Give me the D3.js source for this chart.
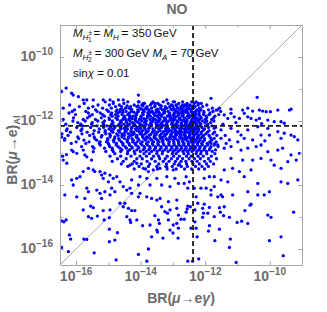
<!DOCTYPE html>
<html><head><meta charset="utf-8">
<script src="https://cdn.jsdelivr.net/npm/d3@7"></script>
<style>body{margin:0;background:#fff}</style>
</head><body>
<svg id="chart" width="327" height="312"></svg>
<script>
// ---- data (log10 of branching ratios) ----
const titleText = "NO";
const xDomainExp = [-16.5, -9];
const yDomainExp = [-16.5, -9];
const tickExps = [-16, -15, -14, -13, -12, -11, -10, -9];
const labelExps = [-16, -14, -12, -10];
const megBound = 4.2e-13;      // BR(mu -> e gamma) limit
const alBound = 7e-13;         // BR(mu -> e) limit

// sparse points: [log10 BR(mu->e gamma), log10 BR(mu->e)_Al]
const pointsUpper = [
[-16.45,-11.08],[-16.14,-11.13],[-16.09,-11.19],[-15.93,-11.24],[-15.78,-11.34],[-15.67,-11.34],[-15.47,-11.34],
[-15.16,-11.34],[-14.95,-11.34],[-14.85,-11.40],[-14.69,-11.34],[-14.54,-11.34],[-14.07,-11.19],[-14.07,-11.40],
[-13.92,-11.45],[-13.66,-11.45],[-13.56,-11.45],[-13.19,-11.34],[-12.99,-11.40],[-16.31,-10.97],
[-11.82,-11.29],[-10.39,-11.26],[-12.21,-11.45],[-12.59,-11.50],[-12.70,-11.50],[-11.66,-11.66],[-11.56,-11.60],
[-11.20,-11.63],[-11.20,-11.76],[-10.84,-11.66],[-10.79,-11.76],[-10.68,-11.60],[-10.53,-11.69],[-10.32,-11.66],
[-10.22,-11.69],[-10.11,-11.71],[-9.98,-11.71],[-9.75,-11.66],[-9.39,-11.66],[-9.34,-11.63],[-11.41,-11.81],
[-11.30,-11.92],[-11.10,-11.87],[-10.94,-11.92],[-10.68,-11.87],[-10.58,-11.92],[-10.42,-11.97],[-10.32,-11.92],
[-10.06,-11.97],[-9.86,-12.02],[-9.65,-12.02],[-9.55,-12.07],[-11.72,-12.23],[-11.51,-12.28],[-11.20,-12.23],
[-10.99,-12.33],[-10.68,-12.28],[-10.37,-12.18],[-10.06,-12.23],[-10.01,-12.44],[-9.75,-12.33],[-9.65,-12.54],
[-9.55,-12.38],[-9.34,-12.44],[-9.24,-12.49],[-9.13,-12.59],[-10.89,-12.44],[-10.79,-12.54],[-10.99,-12.65],
[-10.53,-12.59],[-10.27,-12.44],[-11.25,-12.59],[-11.51,-12.54],[-11.35,-12.70],[-11.72,-12.54],[-11.82,-12.70],
[-11.61,-12.75],[-11.45,-12.10],[-11.05,-12.05],[-10.25,-12.08],[-11.38,-12.45],[-10.15,-12.62]
];
const pointsMiddle = [
[-16.40,-13.22],[-16.29,-13.32],[-16.42,-13.10],[-16.30,-13.05],[-16.09,-12.96],[-16.14,-12.91],[-15.98,-13.01],
[-15.83,-12.80],[-15.78,-12.91],[-15.73,-13.06],[-15.67,-13.12],[-15.49,-12.80],[-15.47,-12.96],[-15.52,-13.22],
[-15.62,-13.48],[-15.78,-13.58],[-15.88,-13.74],[-15.98,-13.79],[-15.47,-13.53],[-15.42,-13.58],[-16.14,-13.84],
[-16.09,-14.00],[-15.67,-14.10],[-15.62,-14.21],[-15.36,-14.16],[-16.35,-14.31],[-15.98,-14.37],[-15.73,-14.42],
[-15.26,-13.58],[-15.21,-13.69],[-15.11,-13.63],[-15.16,-13.79],[-15.00,-13.90],[-14.95,-13.69],[-14.85,-13.79],
[-14.74,-13.74],[-14.64,-13.90],[-14.90,-14.10],[-14.80,-14.21],[-14.95,-14.31],[-15.11,-14.21],[-15.26,-14.26],
[-15.21,-14.42],[-14.54,-14.05],[-14.43,-14.16],[-14.33,-14.10],[-14.28,-14.26],[-14.02,-14.26],[-14.07,-14.37],
[-13.81,-14.37],[-13.66,-14.42],[-13.50,-14.47],[-13.40,-14.42],[-13.14,-14.52],[-12.88,-14.47],[-14.49,-14.57],
[-14.64,-14.57],[-14.33,-13.38],[-14.12,-13.32],[-13.92,-13.48],[-13.76,-13.58],[-13.61,-13.53],[-13.40,-13.48],
[-13.19,-13.43],[-12.99,-13.53],[-12.83,-13.38],[-14.02,-13.74],[-13.81,-13.79],[-13.50,-13.79],[-13.19,-13.74],
[-12.94,-13.79],[-14.28,-13.84],[-14.07,-14.00],[-13.71,-14.00],[-13.35,-14.00],[-13.09,-14.05],[-12.83,-13.95],
[-11.41,-12.85],[-11.20,-12.80],[-10.89,-12.91],[-10.68,-12.85],[-10.42,-12.80],[-10.27,-12.75],[-10.06,-12.96],
[-9.75,-12.91],[-9.60,-12.85],[-9.34,-13.06],[-9.18,-13.22],[-9.08,-13.01],[-11.20,-13.17],[-10.84,-13.22],
[-10.53,-13.22],[-10.27,-13.17],[-9.96,-13.22],[-9.86,-13.38],[-9.65,-13.48],[-9.44,-13.27],[-11.41,-13.53],
[-11.15,-13.48],[-10.94,-13.58],[-10.58,-13.53],[-11.72,-13.74],[-11.87,-13.74],[-12.03,-13.79],[-11.51,-13.84],
[-11.30,-13.90],[-10.79,-13.74],[-10.37,-13.95],[-9.65,-13.90],[-9.44,-13.95],[-9.13,-13.84],[-12.54,-14.10],
[-12.34,-14.10],[-12.13,-14.10],[-11.97,-14.10],[-11.82,-14.16],[-11.72,-14.05],[-11.51,-14.31],[-11.46,-14.37],
[-11.61,-14.37],[-11.82,-14.31],[-12.28,-14.37],[-11.15,-14.31],[-10.68,-14.21],[-10.37,-14.31],[-10.17,-14.31],
[-10.01,-14.21],[-12.65,-13.95],[-12.49,-13.90],[-12.59,-13.74],[-12.23,-14.57],[-12.03,-14.60],[-10.58,-14.60]
];
const pointsLower = [
[-15.78,-14.78],[-15.55,-14.66],[-15.47,-14.71],[-15.16,-14.80],[-14.95,-14.78],[-14.54,-14.68],[-14.38,-14.73],
[-14.28,-14.80],[-14.18,-14.80],[-15.62,-14.99],[-15.52,-15.04],[-15.34,-14.97],[-15.13,-15.09],[-14.97,-15.02],
[-16.45,-15.12],[-16.38,-15.15],[-16.31,-15.09],[-14.43,-14.99],[-14.33,-15.09],[-14.31,-15.17],[-14.12,-15.09],
[-13.94,-15.27],[-13.71,-15.25],[-13.56,-14.96],[-13.45,-15.09],[-13.42,-15.20],[-13.50,-15.41],[-13.48,-15.47],
[-13.66,-15.62],[-13.31,-15.66],[-13.00,-15.50],[-12.84,-15.66],[-16.21,-15.56],[-16.17,-15.69],[-15.76,-15.69],
[-15.67,-15.70],[-14.97,-15.38],[-14.72,-15.49],[-14.80,-15.72],[-14.97,-15.77],[-16.45,-15.95],[-16.24,-16.08],
[-15.44,-16.12],[-14.07,-16.17],[-13.76,-16.00],[-14.76,-16.34],[-13.81,-16.38],[-13.35,-14.68],[-13.25,-14.83],
[-13.17,-14.88],[-13.09,-14.78],[-12.88,-14.73],[-12.83,-14.94],[-12.88,-15.20],[-12.83,-15.35],[-13.14,-15.09],
[-12.99,-15.25],[-13.09,-15.41],
[-12.54,-14.66],[-12.46,-14.68],[-12.56,-14.75],[-12.59,-14.85],[-12.32,-14.78],[-12.08,-14.73],[-11.87,-14.70],
[-11.56,-14.71],[-11.41,-14.68],[-12.05,-14.88],[-11.92,-14.88],[-11.72,-14.99],[-12.08,-15.01],[-11.53,-14.85],
[-11.43,-14.96],[-11.25,-15.01],[-10.77,-14.80],[-10.61,-14.63],[-9.26,-14.85],[-10.06,-14.94],[-9.96,-15.01],
[-12.75,-15.07],[-12.65,-15.07],[-12.32,-15.15],[-11.01,-15.17],[-10.87,-15.13],[-10.68,-15.20],[-11.87,-15.27],
[-11.90,-15.44],[-12.44,-15.35],[-12.28,-15.35],[-11.56,-15.38],[-12.25,-15.62],[-11.70,-15.74],[-11.22,-15.69],
[-11.25,-15.95],[-10.01,-15.74],[-9.65,-15.62],[-9.58,-16.21],[-12.54,-16.38],[-12.39,-16.38],[-12.20,-16.31],
[-11.04,-16.42]
];
// dense band: log10 BR(mu->e)_Al of each row, and log10 BR(mu->e gamma) of the points read on it
const bandLevels = [-11.40,-11.45,-11.50,-11.55,-11.60,-11.65,
  -12.25,-11.85,-12.50,-11.70,-12.10,-12.65,-11.95,-12.35,-11.80,-12.55,-12.00,-12.40,-11.75,-12.20,-12.60,
  -11.90,-12.30,-12.05,-12.70,-12.15,-12.45,
  -12.85,-12.75,-12.95,-12.80,-12.90,
  -13.02,-13.10,-13.18,-13.26,-13.34,-13.42,-13.50];
const bandRows = [
[-15.10,-14.40,-14.05,-13.62,-13.30,-12.95,-12.70,-12.42,-12.28],
[-15.75,-14.85,-14.52,-13.88,-13.47,-13.15,-12.82,-12.56,-12.34,-12.12],
[-16.20,-15.32,-14.97,-14.66,-14.20,-13.96,-13.70,-13.41,-13.05,-12.90,-12.63,-12.47,-12.22,-11.95],
[-15.90,-15.48,-14.78,-14.59,-14.31,-14.12,-13.80,-13.57,-13.24,-13.10,-12.76,-12.58,-12.40,-12.31,-12.08],
[-16.40,-15.62,-15.18,-14.91,-14.47,-14.36,-14.02,-13.84,-13.66,-13.38,-13.19,-12.98,-12.86,-12.68,-12.51,-12.37,-12.18,-11.78],
[-16.05,-15.40,-15.05,-14.73,-14.55,-14.27,-14.09,-13.91,-13.74,-13.52,-13.33,-13.27,-13.02,-12.93,-12.72,-12.60,-12.44,-12.26,-12.13,-11.90,-11.62],
[-16.28,-15.82,-15.28,-14.98,-14.84,-14.62,-14.41,-14.16,-14.04,-13.86,-13.62,-13.44,-13.22,-13.13,-12.96,-12.79,-12.66,-12.52,-12.39,-12.29,-12.20,-12.02],
[-15.58,-15.12,-14.88,-14.70,-14.50,-14.33,-14.24,-13.99,-13.78,-13.70,-13.49,-13.36,-13.17,-13.06,-12.88,-12.71,-12.55,-12.46,-12.33,-12.16,-11.97,-11.70],
[-16.45,-15.95,-15.44,-15.22,-14.95,-14.80,-14.58,-14.38,-14.14,-13.94,-13.82,-13.58,-13.40,-13.30,-13.09,-12.98,-12.80,-12.62,-12.50,-12.36,-12.24,-12.10,-11.85],
[-16.12,-15.70,-15.35,-15.00,-14.76,-14.64,-14.45,-14.28,-14.07,-13.89,-13.73,-13.64,-13.45,-13.26,-13.15,-12.93,-12.84,-12.67,-12.57,-12.43,-12.30,-12.19,-12.04,-11.76,-11.52],
[-16.32,-15.86,-15.52,-15.15,-14.90,-14.67,-14.52,-14.34,-14.20,-14.01,-13.83,-13.67,-13.51,-13.37,-13.20,-13.04,-12.90,-12.74,-12.61,-12.48,-12.38,-12.27,-12.14,-11.92],
[-16.00,-15.60,-15.26,-15.06,-14.83,-14.60,-14.42,-14.25,-14.11,-13.95,-13.76,-13.60,-13.43,-13.32,-13.11,-12.97,-12.82,-12.70,-12.53,-12.44,-12.33,-12.21,-12.07,-11.86,-11.66],
[-16.40,-15.78,-15.40,-14.97,-14.72,-14.55,-14.37,-14.17,-14.04,-13.87,-13.71,-13.55,-13.40,-13.24,-13.06,-12.94,-12.77,-12.64,-12.58,-12.41,-12.29,-12.18,-12.00,-11.80],
[-16.18,-15.66,-15.30,-15.10,-14.86,-14.65,-14.48,-14.30,-14.22,-13.98,-13.80,-13.63,-13.48,-13.30,-13.17,-13.01,-12.86,-12.72,-12.55,-12.47,-12.35,-12.24,-12.12,-11.93,-11.71],
[-16.02,-15.50,-15.18,-14.93,-14.78,-14.58,-14.40,-14.13,-13.92,-13.75,-13.58,-13.44,-13.34,-13.12,-12.98,-12.81,-12.68,-12.51,-12.39,-12.30,-12.20,-12.05,-11.88,-11.58],
[-16.35,-15.92,-15.42,-15.03,-14.81,-14.68,-14.50,-14.27,-14.08,-13.90,-13.70,-13.53,-13.38,-13.21,-13.08,-12.92,-12.76,-12.62,-12.45,-12.36,-12.25,-12.16,-12.02,-11.82],
[-16.10,-15.72,-15.33,-15.12,-14.88,-14.62,-14.45,-14.33,-14.16,-13.97,-13.82,-13.62,-13.47,-13.29,-13.14,-13.00,-12.87,-12.70,-12.56,-12.42,-12.32,-12.22,-12.09,-11.95,-11.73],
[-16.44,-15.82,-15.47,-15.08,-14.96,-14.74,-14.55,-14.38,-14.20,-14.02,-13.86,-13.68,-13.55,-13.36,-13.19,-13.05,-12.92,-12.79,-12.63,-12.48,-12.38,-12.27,-12.13,-11.98,-11.76],
[-16.22,-15.62,-15.25,-14.90,-14.70,-14.57,-14.35,-14.12,-13.94,-13.78,-13.60,-13.42,-13.26,-13.10,-12.96,-12.83,-12.71,-12.53,-12.40,-12.31,-12.19,-12.04,-11.85],
[-15.98,-15.55,-15.15,-14.93,-14.80,-14.63,-14.46,-14.29,-14.10,-13.89,-13.73,-13.52,-13.35,-13.18,-13.02,-12.88,-12.75,-12.59,-12.47,-12.34,-12.23,-12.10,-11.90,-11.68],
[-16.36,-15.76,-15.36,-15.02,-14.84,-14.66,-14.41,-14.23,-14.05,-13.85,-13.66,-13.48,-13.31,-13.16,-12.99,-12.85,-12.69,-12.57,-12.43,-12.29,-12.16,-12.03,-11.80],
[-16.08,-15.65,-15.22,-14.98,-14.77,-14.53,-14.34,-14.15,-13.99,-13.80,-13.62,-13.44,-13.27,-13.09,-12.94,-12.80,-12.64,-12.50,-12.37,-12.26,-12.12,-11.96,-11.74],
[-16.30,-15.85,-15.44,-15.10,-14.91,-14.69,-14.48,-14.30,-14.12,-13.94,-13.76,-13.57,-13.40,-13.22,-13.06,-12.91,-12.77,-12.61,-12.46,-12.33,-12.21,-12.07,-11.88],
[-15.95,-15.50,-15.17,-14.86,-14.62,-14.43,-14.25,-14.07,-13.88,-13.69,-13.53,-13.35,-13.18,-13.01,-12.87,-12.73,-12.58,-12.42,-12.30,-12.18,-12.01,-11.83],
[-16.15,-15.70,-15.28,-15.00,-14.75,-14.55,-14.36,-14.18,-14.00,-13.82,-13.64,-13.47,-13.30,-13.13,-12.97,-12.82,-12.66,-12.52,-12.38,-12.24,-12.11,-11.94,-11.70],
[-15.80,-15.35,-15.05,-14.82,-14.60,-14.40,-14.21,-14.03,-13.86,-13.67,-13.50,-13.33,-13.17,-13.00,-12.84,-12.70,-12.55,-12.41,-12.27,-12.14,-11.99,-11.79],
[-16.25,-15.58,-15.20,-14.94,-14.70,-14.50,-14.31,-14.12,-13.93,-13.74,-13.57,-13.40,-13.24,-13.07,-12.91,-12.76,-12.62,-12.48,-12.34,-12.20,-12.05,-11.88,-11.64],
[-15.45,-15.12,-14.88,-14.64,-14.44,-14.26,-14.06,-13.88,-13.71,-13.54,-13.37,-13.20,-13.03,-12.88,-12.73,-12.59,-12.45,-12.31,-12.17,-12.02,-11.85],
[-15.25,-14.98,-14.76,-14.55,-14.35,-14.15,-13.96,-13.79,-13.62,-13.45,-13.28,-13.12,-12.96,-12.81,-12.66,-12.52,-12.38,-12.24,-12.09,-11.92,-11.72],
[-15.08,-14.85,-14.62,-14.40,-14.20,-14.01,-13.83,-13.66,-13.49,-13.32,-13.15,-12.99,-12.84,-12.69,-12.55,-12.41,-12.26,-12.12,-11.96,-11.78],
[-14.96,-14.70,-14.48,-14.28,-14.08,-13.89,-13.72,-13.54,-13.37,-13.21,-13.04,-12.89,-12.74,-12.60,-12.46,-12.31,-12.16,-12.00,-11.82,-11.60],
[-14.88,-14.58,-14.34,-14.12,-13.92,-13.75,-13.58,-13.41,-13.25,-13.08,-12.93,-12.78,-12.63,-12.49,-12.35,-12.20,-12.04,-11.87,-11.68],
[-14.80,-14.41,-14.18,-13.90,-13.73,-13.50,-13.33,-13.02,-12.90,-12.66,-12.52,-12.28,-12.14,-11.95,-11.70],
[-14.95,-14.62,-14.30,-14.02,-13.82,-13.60,-13.44,-13.18,-12.98,-12.80,-12.58,-12.43,-12.22,-12.06,-11.81],
[-14.72,-14.45,-14.12,-13.95,-13.66,-13.41,-13.24,-13.05,-12.86,-12.70,-12.50,-12.33,-12.15,-11.90,-11.65],
[-14.88,-14.54,-14.20,-13.80,-13.55,-13.30,-13.12,-12.92,-12.75,-12.60,-12.41,-12.25,-12.02,-11.84],
[-14.60,-14.26,-13.98,-13.72,-13.44,-13.20,-12.96,-12.80,-12.58,-12.38,-12.18,-11.96,-11.74],
[-14.40,-14.05,-13.76,-13.50,-13.22,-13.02,-12.74,-12.55,-12.30,-12.10,-11.90],
[-14.20,-13.85,-13.48,-13.18,-12.90,-12.64,-12.42,-12.20,-12.02]
];
// densest core of the band (extra points between the rows above)
const coreLevels = [-11.53,-11.63,-11.73,-11.83,-11.93,-12.03,-12.13,-12.23,-12.33,-12.43,-12.53];
const coreRows = [
[-14.42,-14.08,-13.93,-13.55,-13.36,-13.00,-12.88,-12.66,-12.50,-12.37],
[-14.62,-14.30,-13.98,-13.80,-13.47,-13.25,-13.06,-12.77,-12.55,-12.43],
[-14.55,-14.21,-13.92,-13.69,-13.52,-13.28,-12.91,-12.74,-12.60,-12.35],
[-14.35,-14.15,-13.78,-13.55,-13.35,-13.12,-12.96,-12.70,-12.52,-12.40],
[-14.48,-14.26,-13.90,-13.62,-13.42,-13.23,-13.00,-12.80,-12.65,-12.30],
[-14.60,-14.10,-13.86,-13.66,-13.45,-13.20,-13.03,-12.84,-12.62,-12.45],
[-14.40,-14.18,-13.95,-13.73,-13.46,-13.30,-12.95,-12.72,-12.58,-12.40],
[-14.52,-14.28,-14.00,-13.75,-13.40,-13.22,-12.98,-12.75,-12.60,-12.44],
[-14.45,-14.05,-13.83,-13.62,-13.30,-13.14,-12.92,-12.79,-12.62,-12.38],
[-14.58,-14.25,-13.96,-13.70,-13.52,-13.25,-13.06,-12.88,-12.66,-12.48],
[-14.38,-14.10,-13.78,-13.58,-13.36,-13.10,-12.94,-12.71,-12.55,-12.42]
];

// ---- drawing ----
const m = {l: 60, r: 302, t: 25, b: 265};
const svg = d3.select("#chart");
const x = d3.scaleLog().domain(xDomainExp.map(e => 10 ** e)).range([m.l, m.r]);
const y = d3.scaleLog().domain(yDomainExp.map(e => 10 ** e)).range([m.b, m.t]);

const FONT = "'Liberation Sans', Arial, sans-serif";
const GRAY = "#6b6b6b";
const FRAME = "#a6a6a6";

// diagonal y = x
svg.append("line")
  .attr("x1", x(10 ** xDomainExp[0])).attr("y1", y(10 ** yDomainExp[0]))
  .attr("x2", x(10 ** xDomainExp[1])).attr("y2", y(10 ** yDomainExp[1]))
  .attr("stroke", "#a0a0a0").attr("stroke-width", 0.9);

// points
const rowsToPoints = (rows, levels) => rows.flatMap((row, i) => row.map(v => [v, levels[i]]));
const allPoints = [...pointsUpper, ...pointsMiddle, ...pointsLower,
  ...rowsToPoints(bandRows, bandLevels), ...rowsToPoints(coreRows, coreLevels)];
svg.append("g").selectAll("circle").data(allPoints).join("circle")
  .attr("cx", d => x(10 ** d[0])).attr("cy", d => y(10 ** d[1]))
  .attr("r", 1.65).attr("fill", "#0000ff");

// bound lines
svg.append("line")
  .attr("x1", x(megBound)).attr("x2", x(megBound)).attr("y1", m.t).attr("y2", m.b)
  .attr("stroke", "#1a1a1a").attr("stroke-width", 1.8).attr("stroke-dasharray", "5,3");
svg.append("line")
  .attr("x1", m.l).attr("x2", m.r).attr("y1", y(alBound)).attr("y2", y(alBound))
  .attr("stroke", "#1a1a1a").attr("stroke-width", 1.8).attr("stroke-dasharray", "5,3");

// axes (frame with inward ticks)
const tickVals = tickExps.map(e => 10 ** e);
const isLabeled = v => labelExps.some(e => Math.abs(Math.log10(v) - e) < 1e-6);
function styleAxis(g, horizontal, sign) {
  g.select(".domain").attr("stroke", FRAME).attr("stroke-width", 1);
  g.selectAll(".tick line").attr("stroke", FRAME)
    .each(function(d) {
      const len = (isLabeled(d) ? 4 : 2.5) * sign;
      d3.select(this).attr(horizontal ? "y2" : "x2", len);
    });
  g.selectAll(".tick text").remove();
}
const gB = svg.append("g").attr("transform", `translate(0,${m.b})`)
  .call(d3.axisBottom(x).tickValues(tickVals).tickSizeOuter(0).tickSizeInner(-4).tickFormat(""));
styleAxis(gB, true, -1);
const gT = svg.append("g").attr("transform", `translate(0,${m.t})`)
  .call(d3.axisTop(x).tickValues(tickVals).tickSizeOuter(0).tickSizeInner(-4).tickFormat(""));
styleAxis(gT, true, 1);
const gL = svg.append("g").attr("transform", `translate(${m.l},0)`)
  .call(d3.axisLeft(y).tickValues(tickVals).tickSizeOuter(0).tickSizeInner(-4).tickFormat(""));
styleAxis(gL, false, 1);
const gR = svg.append("g").attr("transform", `translate(${m.r},0)`)
  .call(d3.axisRight(y).tickValues(tickVals).tickSizeOuter(0).tickSizeInner(-4).tickFormat(""));
styleAxis(gR, false, -1);

function powLabel(sel, e) {
  sel.append("tspan").text("10");
  sel.append("tspan").attr("font-size", 10).attr("dy", -6).text("\u2212" + Math.abs(e));
}
labelExps.forEach(e => {
  const t = svg.append("text").attr("x", x(10 ** e)).attr("y", 281)
    .attr("text-anchor", "middle").attr("font-family", FONT).attr("font-weight", "bold")
    .attr("font-size", 14).attr("fill", GRAY);
  powLabel(t, e);
  const t2 = svg.append("text").attr("x", 53).attr("y", y(10 ** e) + 4)
    .attr("text-anchor", "end").attr("font-family", FONT).attr("font-weight", "bold")
    .attr("font-size", 14).attr("fill", GRAY);
  powLabel(t2, e);
});

// title
svg.append("text").attr("x", 177).attr("y", 13.5).attr("text-anchor", "middle")
  .attr("font-family", FONT).attr("font-weight", "bold").attr("font-size", 14).attr("fill", GRAY)
  .text(titleText);

// x axis title
const xt = svg.append("text").attr("x", (m.l + m.r) / 2).attr("y", 302.5).attr("text-anchor", "middle")
  .attr("font-family", FONT).attr("font-weight", "bold").attr("font-size", 14).attr("fill", GRAY);
xt.append("tspan").text("BR(");
xt.append("tspan").attr("font-style", "italic").text("\u03BC");
xt.append("tspan").text("\u2192e");
xt.append("tspan").attr("font-style", "italic").text("\u03B3");
xt.append("tspan").text(")");

// y axis title
const yt = svg.append("text").attr("transform", "translate(17,150) rotate(-90)").attr("text-anchor", "middle")
  .attr("font-family", FONT).attr("font-weight", "bold").attr("font-size", 14).attr("fill", GRAY);
yt.append("tspan").text("BR(");
yt.append("tspan").attr("font-style", "italic").text("\u03BC");
yt.append("tspan").text("\u2192e)");
yt.append("tspan").attr("font-size", 9.5).attr("dy", 3).text("Al");

// annotation
function ann(yPos) {
  return svg.append("text").attr("x", 73).attr("y", yPos).attr("font-family", FONT)
    .attr("font-size", 11.5).attr("fill", "#111");
}
const a1 = ann(37);
a1.append("tspan").attr("font-style", "italic").text("M");
a1.append("tspan").attr("font-style", "italic").attr("font-size", 8).attr("dy", 3).text("H");
a1.append("tspan").attr("font-size", 6.5).attr("dy", -5).text("\u00B1");
a1.append("tspan").attr("font-size", 6.5).attr("dx", -4).attr("dy", 7).text("1");
a1.append("tspan").attr("dy", -5).attr("dx", 2).text("= ");
a1.append("tspan").attr("font-style", "italic").text("M");
a1.append("tspan").attr("font-style", "italic").attr("font-size", 8).attr("dy", 3).text("H");
a1.append("tspan").attr("dy", -3).attr("dx", 2).attr("font-size", 13).text("= ");
a1.append("tspan").text("350\u2009GeV");

const a2 = ann(57);
a2.append("tspan").attr("font-style", "italic").text("M");
a2.append("tspan").attr("font-style", "italic").attr("font-size", 8).attr("dy", 3).text("H");
a2.append("tspan").attr("font-size", 6.5).attr("dy", -5).text("\u00B1");
a2.append("tspan").attr("font-size", 6.5).attr("dx", -4).attr("dy", 7).text("2");
a2.append("tspan").attr("dy", -5).text(" = 300\u2009GeV ");
a2.append("tspan").attr("font-style", "italic").text("M");
a2.append("tspan").attr("font-style", "italic").attr("font-size", 8).attr("dy", 3).text("A");
a2.append("tspan").attr("dy", -3).text(" = 70\u2009GeV");

const a3 = ann(77);
a3.append("tspan").text("sin");
a3.append("tspan").attr("font-style", "italic").text("\u03C7");
a3.append("tspan").text(" = 0.01");
</script>
</body></html>
